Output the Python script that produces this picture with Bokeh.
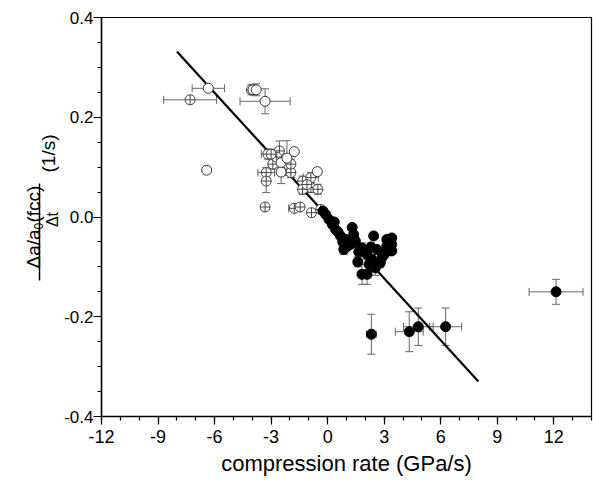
from math import pi
from bokeh.plotting import figure
from bokeh.layouts import row
from bokeh.models import (ColumnDataSource, Whisker, TeeHead, FixedTicker, Range1d)
from bokeh.core.properties import value
from bokeh.embed import file_html
from bokeh.resources import INLINE

# ---------------- data ----------------
# open circles (plain)
op_x = [-6.33, -6.42, -3.32, -3.96, -3.79, -1.77, -2.47, -2.47, -0.55, -2.16]
op_y = [0.258, 0.094, 0.232, 0.255, 0.255, 0.131, 0.109, 0.090, 0.091, 0.118]
op_xerr = [0.86, 0.0, 1.33, 0.0, 0.10, 0.0, 0.10, 0.10, 0.10, 0.10]
op_yerr = [0.0, 0.0, 0.025, 0.010, 0.012, 0.0, 0.010, 0.023, 0.005, 0.035]

# open circles with cross
oc_x = [-7.30, -4.05, -3.17, -2.56, -2.91, -3.26, -3.26, -1.95, -1.95, -1.33, -0.89,
        -0.89, -0.52, -1.33, -3.32, -1.77, -1.46, -0.86, -0.37, -2.70, -1.10, -3.00]
oc_y = [0.235, 0.255, 0.126, 0.1325, 0.106, 0.089, 0.072, 0.089, 0.106, 0.072, 0.079,
        0.059, 0.0556, 0.0556, 0.020, 0.0174, 0.020, 0.0087, 0.015, 0.120, 0.065, 0.126]
oc_xerr = [1.40, 0.10, 0.35, 0.15, 0.20, 0.44, 0.10, 0.15, 0.10, 0.10, 0.40,
           0.10, 0.10, 0.20, 0.0, 0.30, 0.10, 0.10, 0.10, 0.10, 0.10, 0.10]
oc_yerr = [0.005, 0.010, 0.010, 0.020, 0.010, 0.010, 0.023, 0.010, 0.010, 0.010, 0.010,
           0.010, 0.010, 0.010, 0.005, 0.005, 0.005, 0.005, 0.005, 0.010, 0.010, 0.010]

# filled circles
f_x = [-0.25, -0.10, 0.07, 0.25, 0.42, 0.55, 0.68, 1.30, 1.38, 1.47, 1.04, 0.86, 1.82,
       2.44, 2.09, 2.35, 2.61, 3.14, 3.14, 3.05, 2.79, 2.53, 2.09, 1.82, 1.60, 3.40,
       3.40, 3.40, 0.95, 1.20, 1.65, 2.20, 2.90, 2.30, 0.35, 0.80,
       2.32, 4.33, 4.81, 6.26, 12.12]
f_y = [0.012, 0.005, -0.005, -0.015, -0.025, -0.030, -0.038, -0.021, -0.035, -0.048,
       -0.058, -0.065, -0.062, -0.038, -0.075, -0.085, -0.065, -0.045, -0.058, -0.072,
       -0.092, -0.102, -0.115, -0.115, -0.090, -0.042, -0.055, -0.068, -0.045, -0.055,
       -0.070, -0.095, -0.080, -0.060, -0.010, -0.050,
       -0.235, -0.230, -0.220, -0.220, -0.150]
f_xerr = [0.10, 0.10, 0.10, 0.10, 0.10, 0.10, 0.10, 0.0, 0.10, 0.10, 0.20, 0.20, 0.20,
          0.10, 0.20, 0.20, 0.10, 0.10, 0.10, 0.20, 0.20, 0.20, 0.20, 0.20, 0.10, 0.10,
          0.10, 0.10, 0.10, 0.10, 0.15, 0.20, 0.20, 0.10, 0.10, 0.10,
          0.25, 0.74, 0.79, 0.85, 1.43]
f_yerr = [0.005, 0.005, 0.005, 0.005, 0.005, 0.005, 0.005, 0.0, 0.005, 0.008, 0.010,
          0.010, 0.010, 0.005, 0.010, 0.010, 0.005, 0.005, 0.005, 0.010, 0.010, 0.015,
          0.020, 0.020, 0.010, 0.005, 0.005, 0.005, 0.005, 0.008, 0.010, 0.012, 0.010,
          0.008, 0.005, 0.008,
          0.040, 0.040, 0.0375, 0.0375, 0.025]

# linear fit line
fit_x = [-8.0, 8.0]
fit_y = [0.332, -0.330]

x_ticks = [-12, -9, -6, -3, 0, 3, 6, 9, 12]
x_tick_labels = ["-12", "-9", "-6", "-3", "0", "3", "6", "9", "12"]
y_ticks = [-0.4, -0.2, 0.0, 0.2, 0.4]
y_tick_labels = ["-0.4", "-0.2", "0.0", "0.2", "0.4"]

x_title = "compression rate (GPa/s)"
y_title_parts = ["Δa/a", "0", "(fcc)", "Δt", "(1/s)"]

FONT = "Liberation Sans"
W, H = 593, 481
BT, BB = 17, 65      # top / bottom borders around the plot frame
LW = 61              # width of the strip that holds the y-axis title

# ---------------- y title strip ----------------
# frame of the strip is aligned with the main frame (canvas rows BT .. H-BB),
# so its y range is chosen such that y = H - (pixel row from top)
lab = figure(width=LW, height=H, output_backend="svg", toolbar_location=None,
             x_range=Range1d(0, LW), y_range=Range1d(BB, H - BT),
             x_axis_location=None, y_axis_location=None,
             min_border_left=0, min_border_right=0,
             min_border_top=BT, min_border_bottom=BB)
lab.outline_line_color = None
lab.grid.visible = False
lab.background_fill_color = "white"
lab.border_fill_color = "white"


def ylab(px, py, txt, size, align):
    # px = baseline position from the left, py = position from the top (pixels)
    lab.text(x=[px], y=[H - py], text=[txt], angle=pi / 2,
             text_font=value(FONT), text_font_size=size, text_align=align,
             text_baseline="alphabetic", text_color="black")


ylab(33, 268, y_title_parts[0], "19px", "left")
ylab(37.5, 229, y_title_parts[1], "12px", "left")
ylab(33, 222, y_title_parts[2], "19px", "left")
ylab(51.5, 219, y_title_parts[3], "16px", "center")
ylab(48, 153, y_title_parts[4], "19px", "center")
lab.segment(x0=[39], y0=[H - 280], x1=[39], y1=[H - 183], line_color="black",
            line_width=1.5)

# ---------------- main plot ----------------
p = figure(width=W - LW, height=H, output_backend="svg", toolbar_location=None,
           x_range=Range1d(-12, 14), y_range=Range1d(-0.4, 0.4),
           min_border_left=99 - LW, min_border_right=2, min_border_top=BT,
           min_border_bottom=BB)
p.background_fill_color = "white"
p.border_fill_color = "white"
p.outline_line_color = "black"
p.outline_line_width = 1.2
p.grid.visible = False

for ax in (p.xaxis[0], p.yaxis[0]):
    ax.axis_line_color = "black"
    ax.axis_line_width = 1.5
    ax.major_tick_line_color = "black"
    ax.major_tick_line_width = 1.2
    ax.minor_tick_line_color = "black"
    ax.minor_tick_line_width = 1.2
    ax.major_tick_in = 0
    ax.major_tick_out = 8
    ax.minor_tick_in = 0
    ax.minor_tick_out = 4
    ax.major_label_text_font = FONT
    ax.major_label_text_color = "black"

p.xaxis.major_label_text_font_size = "18px"
p.xaxis.major_label_standoff = 5
p.yaxis.major_label_text_font_size = "17px"
p.yaxis.major_label_standoff = 0

p.xaxis.ticker = FixedTicker(ticks=x_ticks, minor_ticks=list(range(-12, 15)))
p.xaxis.major_label_overrides = dict(zip(x_ticks, x_tick_labels))
p.yaxis.ticker = FixedTicker(ticks=y_ticks,
                             minor_ticks=[round(-0.4 + 0.05 * i, 2) for i in range(17)])
p.yaxis.major_label_overrides = dict(zip(y_ticks, y_tick_labels))

p.xaxis.axis_label = x_title
p.xaxis.axis_label_text_font = FONT
p.xaxis.axis_label_text_font_size = "22px"
p.xaxis.axis_label_text_font_style = "normal"
p.xaxis.axis_label_text_color = "black"
p.xaxis.axis_label_standoff = 5

ERR = "#666666"


def add_errors(xs, ys, xe, ye):
    vx = [x for x, e in zip(xs, ye) if e > 0]
    vy = [y for y, e in zip(ys, ye) if e > 0]
    ve = [e for e in ye if e > 0]
    src_v = ColumnDataSource(dict(x=vx, lo=[a - b for a, b in zip(vy, ve)],
                                  hi=[a + b for a, b in zip(vy, ve)]))
    w1 = Whisker(source=src_v, base="x", lower="lo", upper="hi", dimension="height",
                 line_color=ERR, line_width=1, level="underlay",
                 upper_head=TeeHead(size=8, line_color=ERR, line_width=1),
                 lower_head=TeeHead(size=8, line_color=ERR, line_width=1))
    hx = [x for x, e in zip(xs, xe) if e > 0]
    hy = [y for y, e in zip(ys, xe) if e > 0]
    he = [e for e in xe if e > 0]
    src_h = ColumnDataSource(dict(y=hy, lo=[a - b for a, b in zip(hx, he)],
                                  hi=[a + b for a, b in zip(hx, he)]))
    w2 = Whisker(source=src_h, base="y", lower="lo", upper="hi", dimension="width",
                 line_color=ERR, line_width=1, level="underlay",
                 upper_head=TeeHead(size=8, line_color=ERR, line_width=1),
                 lower_head=TeeHead(size=8, line_color=ERR, line_width=1))
    p.add_layout(w1)
    p.add_layout(w2)


add_errors(op_x, op_y, op_xerr, op_yerr)
add_errors(oc_x, oc_y, oc_xerr, oc_yerr)
add_errors(f_x, f_y, f_xerr, f_yerr)

p.line(fit_x, fit_y, line_color="black", line_width=2.2)

p.scatter(oc_x, oc_y, marker="circle_cross", size=10, fill_color="white",
          line_color="#444444", line_width=1)
p.scatter(op_x, op_y, marker="circle", size=10, fill_color="white",
          line_color="#333333", line_width=1)
p.scatter(f_x, f_y, marker="circle", size=10, fill_color="black",
          line_color="black", line_width=1)

layout = row(lab, p, spacing=0)
open("out.html", "w").write(file_html(layout, INLINE))
